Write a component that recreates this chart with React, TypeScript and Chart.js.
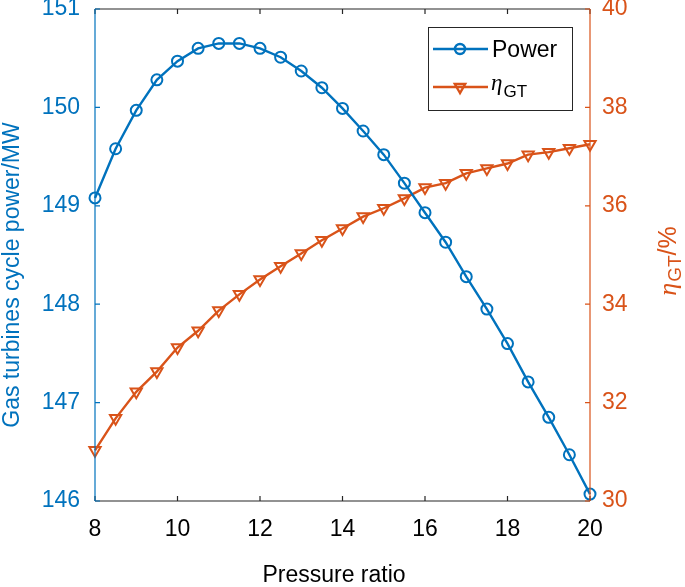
import React, { useEffect, useRef } from 'react';
import { Chart, registerables } from 'chart.js';

Chart.register(...registerables);

const pressureRatio = [8, 8.5, 9, 9.5, 10, 10.5, 11, 11.5, 12, 12.5, 13, 13.5, 14, 14.5, 15, 15.5, 16, 16.5, 17, 17.5, 18, 18.5, 19, 19.5, 20];
const power = [149.08, 149.58, 149.97, 150.28, 150.47, 150.6, 150.65, 150.65, 150.6, 150.51, 150.37, 150.2, 149.99, 149.76, 149.52, 149.23, 148.93, 148.63, 148.28, 147.95, 147.6, 147.21, 146.85, 146.47, 146.07];
const efficiency = [31.03, 31.68, 32.22, 32.63, 33.12, 33.46, 33.87, 34.2, 34.5, 34.77, 35.03, 35.3, 35.54, 35.78, 35.95, 36.15, 36.37, 36.46, 36.66, 36.76, 36.86, 37.04, 37.09, 37.17, 37.25];
const xTicks = [8, 10, 12, 14, 16, 18, 20];
const leftTicks = [146, 147, 148, 149, 150, 151];
const rightTicks = [30, 32, 34, 36, 38, 40];

const BLUE = '#0072BD';
const ORANGE = '#D95319';
const AXIS = '#262626';
const SANS = "'Liberation Sans', Arial, sans-serif";
const SERIF = "'Liberation Serif', 'DejaVu Serif', serif";

function drawTriangleDown(ctx: CanvasRenderingContext2D, x: number, y: number, r: number) {
  const s = Math.sin(Math.PI / 3) * r;
  ctx.beginPath();
  ctx.moveTo(x, y + r);
  ctx.lineTo(x - s, y - r / 2);
  ctx.lineTo(x + s, y - r / 2);
  ctx.closePath();
  ctx.stroke();
}

const decorPlugin = {
  id: 'decor',
  afterDatasetsDraw(chart: any) {
    const ctx: CanvasRenderingContext2D = chart.ctx;
    const ca = chart.chartArea;
    const xs = chart.scales.x;
    const yl = chart.scales.y;
    const yr = chart.scales.y1;
    const tl = 5;
    ctx.save();
    ctx.lineWidth = 1.2;
    ctx.strokeStyle = AXIS;
    ctx.beginPath();
    ctx.moveTo(ca.left, ca.bottom);
    ctx.lineTo(ca.right, ca.bottom);
    ctx.moveTo(ca.left, ca.top);
    ctx.lineTo(ca.right, ca.top);
    for (const t of xTicks) {
      const px = xs.getPixelForValue(t);
      ctx.moveTo(px, ca.bottom);
      ctx.lineTo(px, ca.bottom - tl);
      ctx.moveTo(px, ca.top);
      ctx.lineTo(px, ca.top + tl);
    }
    ctx.stroke();
    ctx.strokeStyle = BLUE;
    ctx.beginPath();
    ctx.moveTo(ca.left, ca.top);
    ctx.lineTo(ca.left, ca.bottom);
    for (const t of leftTicks) {
      const py = yl.getPixelForValue(t);
      ctx.moveTo(ca.left, py);
      ctx.lineTo(ca.left + tl, py);
    }
    ctx.stroke();
    ctx.strokeStyle = ORANGE;
    ctx.beginPath();
    ctx.moveTo(ca.right, ca.top);
    ctx.lineTo(ca.right, ca.bottom);
    for (const t of rightTicks) {
      const py = yr.getPixelForValue(t);
      ctx.moveTo(ca.right, py);
      ctx.lineTo(ca.right - tl, py);
    }
    ctx.stroke();
    ctx.restore();
  },
  afterDraw(chart: any) {
    const ctx: CanvasRenderingContext2D = chart.ctx;
    ctx.save();
    ctx.fillStyle = '#000';
    ctx.font = `23px ${SANS}`;
    ctx.textAlign = 'center';
    ctx.textBaseline = 'alphabetic';
    ctx.fillText('Pressure ratio', 334, 582);

    ctx.save();
    ctx.translate(18.5, 275);
    ctx.rotate(-Math.PI / 2);
    ctx.fillStyle = BLUE;
    ctx.font = `23px ${SANS}`;
    ctx.textAlign = 'center';
    ctx.fillText('Gas turbines cycle power/MW', 0, 0);
    ctx.restore();

    ctx.save();
    ctx.translate(676, 261);
    ctx.rotate(-Math.PI / 2);
    ctx.fillStyle = ORANGE;
    ctx.textAlign = 'left';
    const etaFont = `italic 26px ${SERIF}`;
    const subFont = `19px ${SANS}`;
    const mainFont = `25px ${SANS}`;
    ctx.font = etaFont;
    const wEta = ctx.measureText('η').width;
    ctx.font = subFont;
    const wSub = ctx.measureText('GT').width;
    ctx.font = mainFont;
    const wRest = ctx.measureText('/%').width;
    const total = wEta + 1 + wSub + wRest;
    let x0 = -total / 2;
    ctx.font = etaFont;
    ctx.fillText('η', x0, 0);
    x0 += wEta + 1;
    ctx.font = subFont;
    ctx.fillText('GT', x0, 5);
    x0 += wSub;
    ctx.font = mainFont;
    ctx.fillText('/%', x0, 0);
    ctx.restore();

    const bx = 428.5, by = 27.5, bw = 144, bh = 83;
    ctx.fillStyle = '#fff';
    ctx.fillRect(bx, by, bw, bh);
    ctx.strokeStyle = AXIS;
    ctx.lineWidth = 1;
    ctx.strokeRect(bx, by, bw, bh);
    ctx.lineWidth = 2.4;
    ctx.strokeStyle = BLUE;
    ctx.beginPath();
    ctx.moveTo(433, 49);
    ctx.lineTo(488, 49);
    ctx.stroke();
    ctx.beginPath();
    ctx.arc(460, 49, 5, 0, Math.PI * 2);
    ctx.stroke();
    ctx.fillStyle = '#000';
    ctx.font = `23px ${SANS}`;
    ctx.textAlign = 'left';
    ctx.fillText('Power', 492, 57);
    ctx.strokeStyle = ORANGE;
    ctx.beginPath();
    ctx.moveTo(433, 87);
    ctx.lineTo(488, 87);
    ctx.stroke();
    drawTriangleDown(ctx, 460, 87, 6);
    ctx.fillStyle = '#000';
    ctx.font = `italic 23px ${SERIF}`;
    ctx.fillText('η', 491, 90);
    const we = ctx.measureText('η').width;
    ctx.font = `17px ${SANS}`;
    ctx.fillText('GT', 491 + we + 1, 97);
    ctx.restore();
  },
};

export default function App() {
  const ref = useRef<HTMLCanvasElement | null>(null);
  useEffect(() => {
    if (!ref.current) return;
    const noPad = (s: any) => {
      s.paddingTop = 0;
      s.paddingBottom = 0;
      s.paddingLeft = 0;
      s.paddingRight = 0;
    };
    const chart = new Chart(ref.current, {
      type: 'line',
      data: {
        datasets: [
          {
            label: 'Power',
            data: pressureRatio.map((x, i) => ({ x, y: power[i] })),
            yAxisID: 'y',
            borderColor: BLUE,
            backgroundColor: 'rgba(0,0,0,0)',
            borderWidth: 2.4,
            pointStyle: 'circle',
            pointRadius: 5.5,
            pointBorderWidth: 2,
            pointBorderColor: BLUE,
            pointBackgroundColor: 'rgba(0,0,0,0)',
            tension: 0,
            clip: false as any,
          },
          {
            label: 'ηGT',
            data: pressureRatio.map((x, i) => ({ x, y: efficiency[i] })),
            yAxisID: 'y1',
            borderColor: ORANGE,
            backgroundColor: 'rgba(0,0,0,0)',
            borderWidth: 2.4,
            pointStyle: 'triangle',
            pointRotation: 180,
            pointRadius: 6.5,
            pointBorderWidth: 2,
            pointBorderColor: ORANGE,
            pointBackgroundColor: 'rgba(0,0,0,0)',
            tension: 0,
            clip: false as any,
          },
        ],
      },
      options: {
        responsive: false,
        animation: false,
        layout: { padding: { top: 9, left: 0, right: 0, bottom: 0 } },
        plugins: { legend: { display: false }, tooltip: { enabled: false } },
        scales: {
          x: {
            type: 'linear',
            min: 8,
            max: 20,
            grid: { display: false, drawTicks: false },
            border: { display: false },
            afterBuildTicks: (s: any) => { s.ticks = xTicks.map((v) => ({ value: v })); },
            afterFit: (s: any) => { s.height = 86; noPad(s); },
            ticks: { color: '#000', font: { family: SANS, size: 23 }, padding: 15, maxRotation: 0 },
          },
          y: {
            position: 'left',
            min: 146,
            max: 151,
            grid: { display: false, drawTicks: false },
            border: { display: false },
            afterBuildTicks: (s: any) => { s.ticks = leftTicks.map((v) => ({ value: v })); },
            afterFit: (s: any) => { s.width = 95; noPad(s); },
            ticks: { color: BLUE, font: { family: SANS, size: 23 }, padding: 15 },
          },
          y1: {
            position: 'right',
            min: 30,
            max: 40,
            grid: { display: false, drawTicks: false },
            border: { display: false },
            afterBuildTicks: (s: any) => { s.ticks = rightTicks.map((v) => ({ value: v })); },
            afterFit: (s: any) => { s.width = 95; noPad(s); },
            ticks: { color: ORANGE, font: { family: SANS, size: 23 }, padding: 12 },
          },
        },
      } as any,
      plugins: [decorPlugin],
    });
    return () => chart.destroy();
  }, []);
  return (
    <div style={{ position: 'fixed', left: 0, top: 0, width: 685, height: 587, background: '#fff' }}>
      <canvas ref={ref} width={685} height={587} style={{ width: 685, height: 587, display: 'block' }} />
    </div>
  );
}
